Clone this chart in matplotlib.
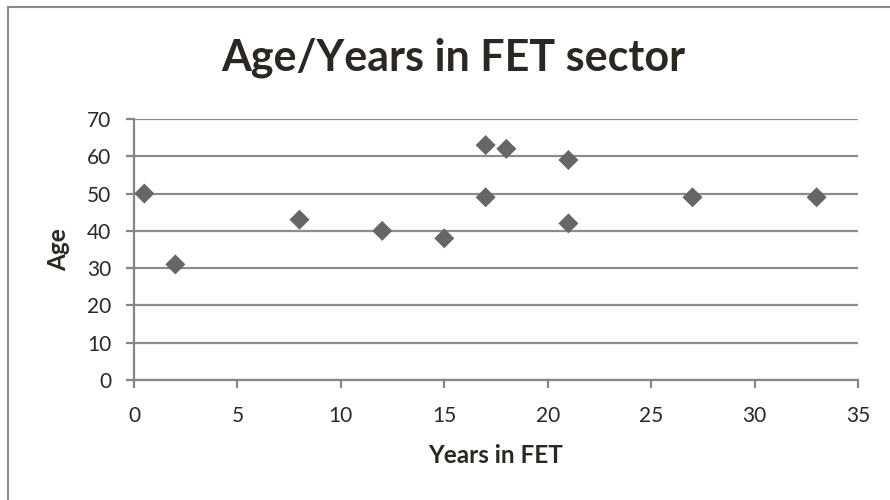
import matplotlib
matplotlib.use("Agg")
from matplotlib import pyplot as plt
from matplotlib.lines import Line2D

years_in_fet = [0.5, 2, 8, 12, 15, 17, 17, 18, 21, 21, 27, 33]
age = [50, 31, 43, 40, 38, 63, 49, 62, 59, 42, 49, 49]

x_ticks = [0, 5, 10, 15, 20, 25, 30, 35]
y_ticks = [0, 10, 20, 30, 40, 50, 60, 70]

plt.rcParams['font.family'] = ['Lato', 'DejaVu Sans']

W, H = 890, 500
fig = plt.figure(figsize=(W / 100, H / 100), dpi=100)
fig.patch.set_facecolor('white')

# plot area in pixel coords
left, right, top, bottom = 134, 858, 119, 380
ax = fig.add_axes([left / W, 1 - bottom / H, (right - left) / W, (bottom - top) / H])

grid_c = '#8c8c8c'
axis_c = '#868686'
text_c = '#2b2823'

ax.scatter(years_in_fet, age, marker='D', s=10.2 ** 2, color='#666666',
           edgecolors='none', zorder=3, clip_on=False)

ax.set_xlim(0, 35)
ax.set_ylim(0, 70)
ax.set_xticks(x_ticks)
ax.set_yticks(y_ticks)
ax.yaxis.grid(True, color=grid_c, linewidth=1.6)
ax.set_axisbelow(True)

for side in ['top', 'right']:
    ax.spines[side].set_visible(False)
for side in ['left', 'bottom']:
    ax.spines[side].set_color(axis_c)
    ax.spines[side].set_linewidth(1.6)

ax.tick_params(axis='both', direction='out', length=5.5, width=1.6,
               color=axis_c, labelsize=15, labelcolor=text_c)
ax.tick_params(axis='x', pad=13)
ax.tick_params(axis='y', pad=11)

ax.set_xlabel('Years in FET', fontsize=17.5, fontweight='bold', color=text_c, va='center')
ax.set_ylabel('Age', fontsize=17.5, fontweight='bold', color=text_c, va='center')
ax.xaxis.set_label_coords(0.5, -0.29)
ax.yaxis.set_label_coords(-0.104, 0.5)

fig.text(453 / W, 1 - 58 / H, 'Age/Years in FET sector', ha='center', va='center',
         fontsize=31, fontweight='bold', color=text_c)

# chart border (left and top edges)
fig.add_artist(Line2D([8 / W, 8 / W], [0, 1 - 7 / H], transform=fig.transFigure,
                      color='#8a8a8a', linewidth=1.5))
fig.add_artist(Line2D([8 / W, 1], [1 - 7 / H, 1 - 7 / H], transform=fig.transFigure,
                      color='#8a8a8a', linewidth=1.5))

fig.savefig('out.png', dpi=100)
